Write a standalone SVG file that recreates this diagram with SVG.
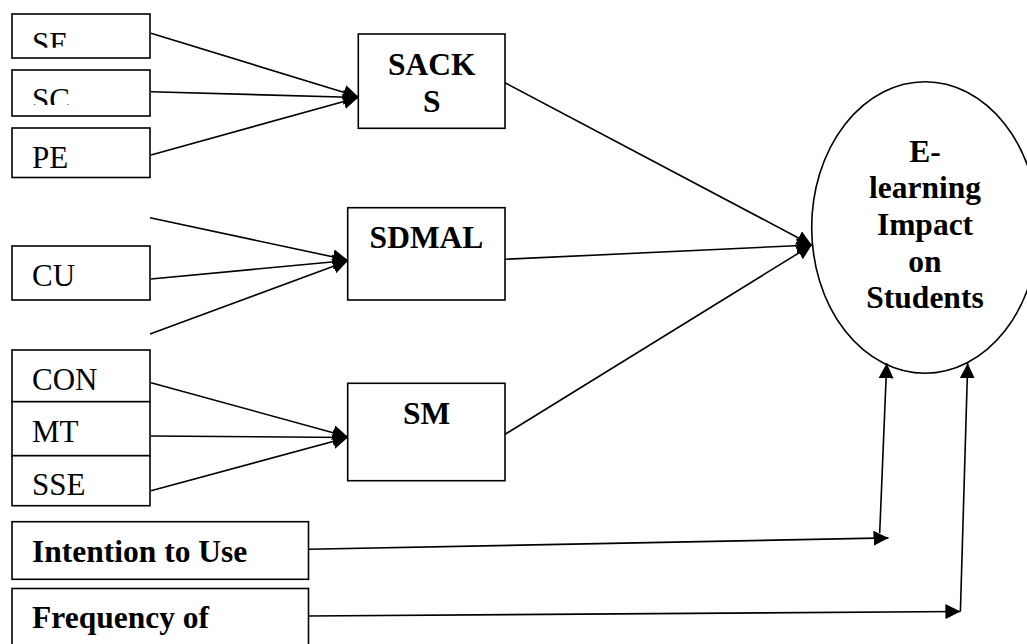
<svg xmlns="http://www.w3.org/2000/svg" width="1027" height="644" viewBox="0 0 1027 644">
<style>
.box{fill:#fff;stroke:#000;stroke-width:1.6}
.t{font-family:"Liberation Serif","Times New Roman",serif;font-size:31px;fill:#000}
.b{font-family:"Liberation Serif","Times New Roman",serif;font-size:31.5px;font-weight:bold;fill:#000}
.c{stroke:#000;stroke-width:1.6;fill:none}
.a{marker-end:url(#ah)}
</style>
<defs>
<marker id="ah" viewBox="0 0 15 15" refX="15" refY="7.5" markerWidth="15" markerHeight="15" markerUnits="userSpaceOnUse" orient="auto">
<path d="M0,0 L15,7.5 L0,15 z" fill="#000"/>
</marker>
<clipPath id="clipSE"><rect x="12" y="14" width="138" height="33.7"/></clipPath>
<clipPath id="clipSC"><rect x="12" y="70" width="138" height="35"/></clipPath>
</defs>
<rect width="1027" height="644" fill="#fff"/>

<g id="node-SE"><rect class="box" x="12" y="14" width="138" height="44"/><text class="t" x="32" y="54" clip-path="url(#clipSE)">SE</text></g>
<g id="node-SC"><rect class="box" x="12" y="70" width="138" height="46"/><text class="t" x="32" y="110" clip-path="url(#clipSC)">SC</text></g>
<g id="node-PE"><rect class="box" x="12" y="128" width="138" height="49.5"/><text class="t" x="32" y="168">PE</text></g>
<g id="node-CU"><rect class="box" x="12" y="246" width="138" height="54"/><text class="t" x="32" y="286">CU</text></g>
<g id="node-CON"><rect class="box" x="12" y="350" width="138" height="51.7"/><text class="t" x="32" y="390">CON</text></g>
<g id="node-MT"><rect class="box" x="12" y="401.7" width="138" height="54"/><text class="t" x="32" y="441.7">MT</text></g>
<g id="node-SSE"><rect class="box" x="12" y="455.7" width="138" height="50"/><text class="t" x="32" y="495">SSE</text></g>
<g id="node-Intention"><rect class="box" x="12" y="521.7" width="296.5" height="57.6"/><text class="b" x="32" y="561.7">Intention to Use</text></g>
<g id="node-Frequency"><rect class="box" x="12" y="588.5" width="296.5" height="70"/><text class="b" x="32" y="628">Frequency of</text></g>

<g id="node-SACKS"><rect class="box" x="358.3" y="34" width="146.7" height="94.3"/><text class="b" x="431.7" y="75" text-anchor="middle">SACK</text><text class="b" x="431.7" y="111.7" text-anchor="middle">S</text></g>
<g id="node-SDMAL"><rect class="box" x="347.7" y="207.7" width="157.3" height="92.3"/><text class="b" x="426.5" y="248.3" text-anchor="middle">SDMAL</text></g>
<g id="node-SM"><rect class="box" x="347.7" y="383.3" width="157.3" height="97.4"/><text class="b" x="426.5" y="424" text-anchor="middle">SM</text></g>

<g id="node-Elearning"><ellipse class="box" cx="925" cy="227.5" rx="113.3" ry="145.8"/>
<text class="b" text-anchor="middle"><tspan x="925" y="161.7">E-</tspan><tspan x="925" y="197.5">learning</tspan><tspan x="925" y="234.5">Impact</tspan><tspan x="925" y="271.5">on</tspan><tspan x="925" y="308.3">Students</tspan></text></g>

<g id="connectors">
<line class="c a" x1="151" y1="33.3" x2="358.3" y2="96.7"/>
<line class="c a" x1="151" y1="91.7" x2="358.3" y2="97.5"/>
<line class="c a" x1="151" y1="155" x2="358.3" y2="97.5"/>
<line class="c a" x1="150" y1="217.7" x2="347.7" y2="260"/>
<line class="c a" x1="151" y1="279" x2="347.7" y2="260.5"/>
<line class="c a" x1="150" y1="334" x2="347.7" y2="261"/>
<line class="c a" x1="151" y1="382.7" x2="347.7" y2="436.7"/>
<line class="c a" x1="151" y1="436" x2="347.7" y2="437.5"/>
<line class="c a" x1="151" y1="490.7" x2="347.7" y2="437.5"/>
<line class="c a" x1="505" y1="82.7" x2="811.7" y2="245"/>
<line class="c a" x1="505" y1="259.3" x2="811.7" y2="245"/>
<line class="c a" x1="505" y1="434.3" x2="811.7" y2="245"/>
<line class="c a" x1="308.5" y1="549.3" x2="888.5" y2="537.9"/>
<line class="c a" x1="879.7" y1="533" x2="886.7" y2="363.3"/>
<line class="c a" x1="308.5" y1="616" x2="960.4" y2="611.5"/>
<line class="c a" x1="960.4" y1="611.5" x2="967.7" y2="363.3"/>
</g>
</svg>
